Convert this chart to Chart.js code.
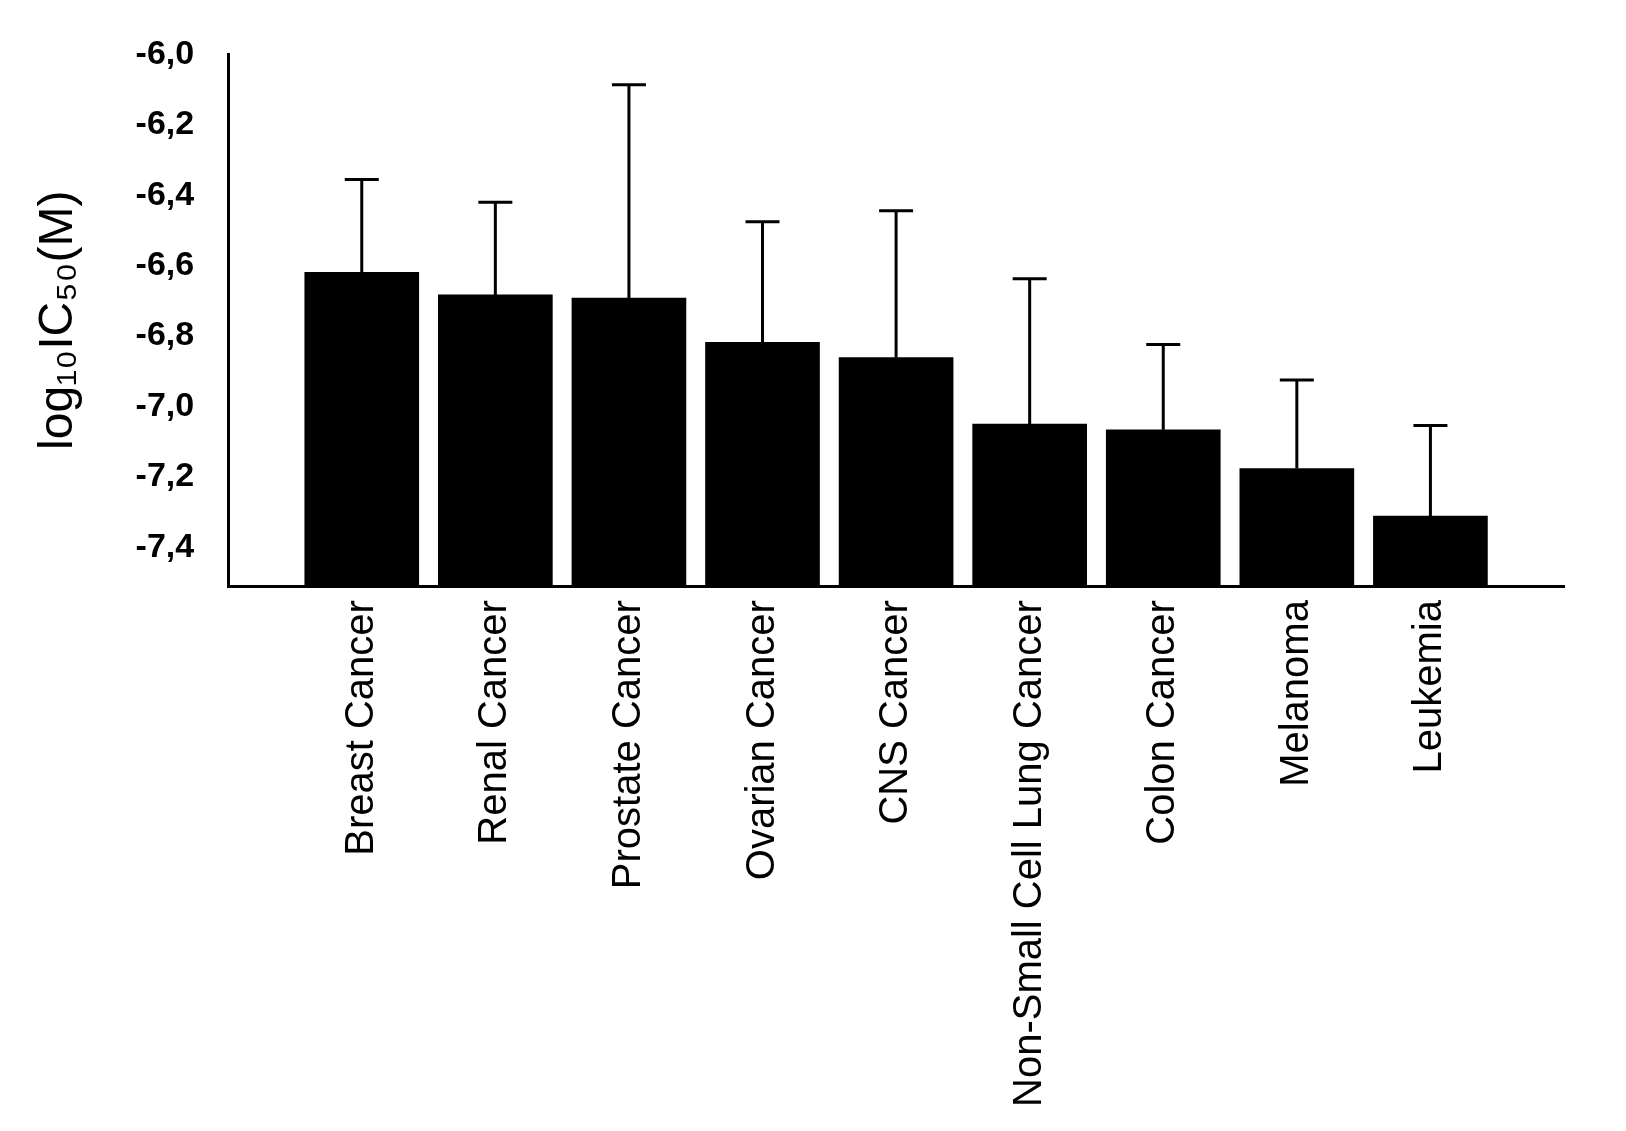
<!DOCTYPE html>
<html><head><meta charset="utf-8">
<script src="https://cdn.jsdelivr.net/npm/chart.js@4/dist/chart.umd.min.js"></script>
<style>html,body{margin:0;background:#fff}#w{width:1626px;height:1131px}</style>
</head><body><div id="w"><canvas id="c"></canvas></div>
<script>
const categories = ["Breast Cancer","Renal Cancer","Prostate Cancer","Ovarian Cancer","CNS Cancer","Non-Small Cell Lung Cancer","Colon Cancer","Melanoma","Leukemia"];
const means = [-6.619,-6.683,-6.692,-6.818,-6.861,-7.05,-7.066,-7.176,-7.311];
const errorTops = [-6.355,-6.42,-6.086,-6.475,-6.444,-6.637,-6.824,-6.925,-7.054];
const yTicks = [-6.0,-6.2,-6.4,-6.6,-6.8,-7.0,-7.2,-7.4];
const yMin = -7.51, yMax = -6.0;

const labels = [""].concat(categories, [""]);
const barData = [null].concat(means, [null]);
const errData = [null].concat(errorTops, [null]);

const errPlugin = {
  id:'err',
  afterDatasetsDraw(chart){
    const {ctx, scales:{x,y}} = chart;
    ctx.save(); ctx.strokeStyle='#000'; ctx.lineWidth=3;
    errData.forEach((v,i)=>{
      if(v==null) return;
      const px = x.getPixelForValue(i);
      const y0 = y.getPixelForValue(barData[i]), y1 = y.getPixelForValue(v);
      ctx.beginPath(); ctx.moveTo(px,y0); ctx.lineTo(px,y1);
      ctx.moveTo(px-17,y1); ctx.lineTo(px+17,y1); ctx.stroke();
    });
    ctx.restore();
  }
};

new Chart(document.getElementById('c'),{
  type:'bar',
  data:{labels, datasets:[{data:barData, backgroundColor:'#000', barThickness:114, base:yMin}]},
  options:{
    responsive:true, maintainAspectRatio:false, animation:false,
    layout:{padding:{top:46,right:32,left:26,bottom:10}},
    plugins:{legend:{display:false}, tooltip:{enabled:false}},
    scales:{
      x:{offset:false, grid:{display:false, drawTicks:false},
         border:{color:'#000', width:3},
         ticks:{color:'#000', maxRotation:90, minRotation:90, autoSkip:false, padding:14,
                font:{family:'Liberation Sans', size:40}}},
      y:{min:yMin, max:yMax, grid:{display:false, drawTicks:false},
         border:{color:'#000', width:3},
         afterBuildTicks(s){ s.ticks = yTicks.map(v=>({value:v})); },
         ticks:{color:'#000', padding:34, font:{family:'Liberation Sans', size:34, weight:'bold'},
                callback:v=>v.toFixed(1).replace('.',',')},
         title:{display:true, text:'log₁₀IC₅₀(M)', color:'#000', padding:{bottom:14},
                font:{family:'Liberation Sans', size:48}}}
    }
  },
  plugins:[errPlugin]
});
</script></body></html>
